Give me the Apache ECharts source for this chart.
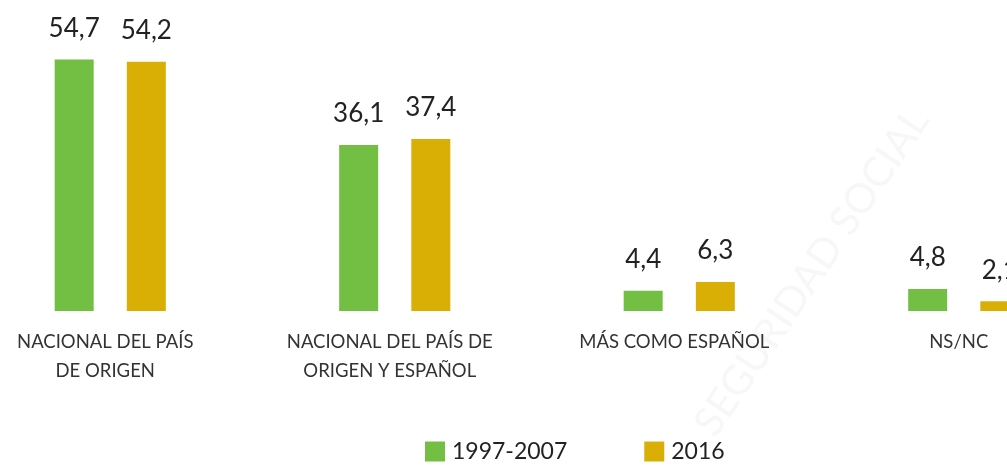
<!DOCTYPE html>
<html>
<head>
<meta charset="utf-8">
<script src="https://cdn.jsdelivr.net/npm/echarts@6/dist/echarts.min.js"></script>
<style>
  html, body { margin: 0; padding: 0; background: #fff; overflow: hidden; }
  #wrap { width: 1007px; height: 466px; overflow: hidden; position: relative; }
  /* the original chart is wider than the picture: last category is cut off */
  #chart { width: 1138px; height: 466px; position: absolute; left: -32px; top: 0; }
</style>
</head>
<body>
<div id="wrap"><div id="chart"></div></div>
<script>
  const categories = ['NACIONAL DEL PAÍS\nDE ORIGEN', 'NACIONAL DEL PAÍS DE\nORIGEN Y ESPAÑOL', 'MÁS COMO ESPAÑOL', 'NS/NC'];
  const seriesNames = ['1997-2007', '2016'];
  const values9707 = [54.7, 36.1, 4.4, 4.8];
  const values2016 = [54.2, 37.4, 6.3, 2.1];

  const chart = echarts.init(document.getElementById('chart'));
  const fmt = p => String(p.value).replace('.', ',');
  const labelStyle = {
    show: true,
    position: 'top',
    distance: 18,
    fontSize: 26,
    color: '#222',
    fontFamily: 'Lato',
    formatter: fmt
  };

  const option = {
    animation: false,
    textStyle: { fontFamily: 'Lato' },
    graphic: [{
      type: 'text',
      x: 844,
      y: 272,
      rotation: 56 * Math.PI / 180,
      z: -1,
      style: {
        text: 'SEGURIDAD SOCIAL',
        fontSize: 41,
        fill: '#f7f7f7',
        fontFamily: 'Lato',
        align: 'center',
        verticalAlign: 'middle'
      }
    }],
    legend: {
      bottom: -2,
      left: 452,
      itemWidth: 20,
      itemHeight: 20,
      itemGap: 77,
      icon: 'rect',
      textStyle: { fontSize: 23, color: '#222', padding: [0, 0, 0, 2] },
      data: seriesNames
    },
    grid: {
      left: 0,
      right: 0,
      top: 35,
      bottom: 155,
      containLabel: false
    },
    xAxis: {
      type: 'category',
      data: categories,
      axisLine: { show: false },
      axisTick: { show: false },
      axisLabel: {
        interval: 0,
        margin: 17,
        fontSize: 18.5,
        lineHeight: 29,
        color: '#333',
        padding: [0, 10, 0, 0]
      }
    },
    yAxis: {
      type: 'value',
      min: 0,
      max: 60,
      show: false
    },
    series: [
      {
        name: seriesNames[0],
        type: 'bar',
        data: values9707,
        barWidth: 39,
        barGap: '85%',
        itemStyle: { color: '#72BF44' },
        label: labelStyle
      },
      {
        name: seriesNames[1],
        type: 'bar',
        data: values2016,
        barWidth: 39,
        itemStyle: { color: '#D9AF06' },
        label: labelStyle
      }
    ]
  };
  chart.setOption(option);
</script>
</body>
</html>
